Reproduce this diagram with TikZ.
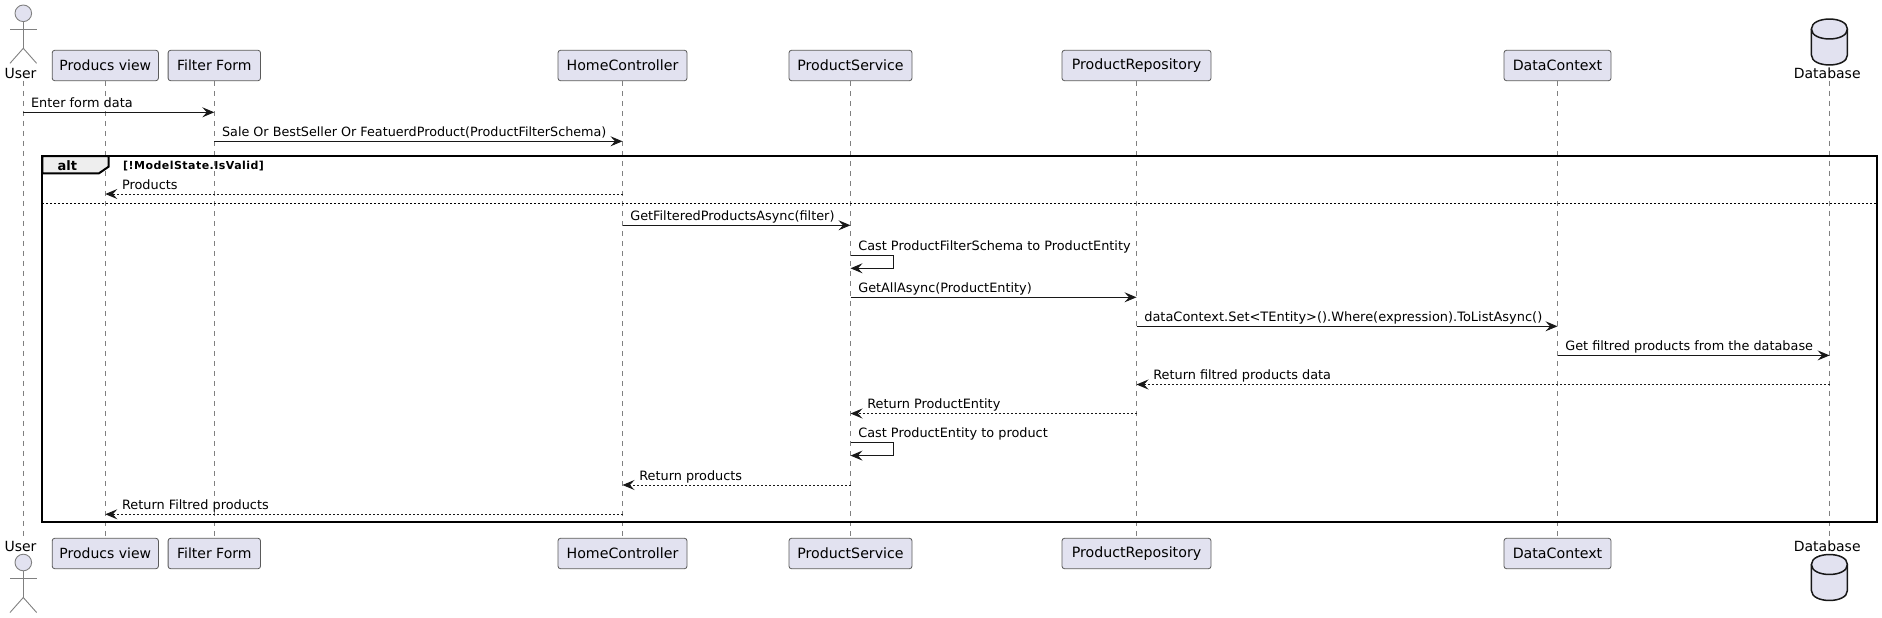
\documentclass[tikz,border=0pt]{standalone}
\usepackage{fontspec}
\setmainfont{DejaVu Sans}
\usetikzlibrary{arrows.meta}
\definecolor{ink}{HTML}{181818}
\definecolor{soft}{HTML}{808080}
\definecolor{edge}{HTML}{5A5A5A}
\definecolor{partfill}{HTML}{E2E2F0}
\definecolor{tabfill}{HTML}{EEEEEE}
\newcommand{\msgfont}{\fontsize{12.85}{15}\selectfont}
\tikzset{
  part/.style={draw=edge,fill=partfill,line width=0.8pt,rounded corners=2.5pt,inner sep=0pt,minimum height=30.4pt,font=\fontsize{14.2}{16}\selectfont,text=black},
  narrowtext/.style={font=\fontsize{14}{16}\selectfont},
  plain label/.style={inner sep=0pt,font=\fontsize{14}{16}\selectfont,text=black},
  lifeline/.style={draw=soft,line width=0.7pt,dash pattern=on 5pt off 5pt},
  sync/.style={draw=ink,line width=1pt,-{Stealth[length=12pt,width=10pt,inset=4.5pt]}},
  reply/.style={draw=ink,line width=1pt,dash pattern=on 2pt off 2pt,-{Stealth[length=12pt,width=10pt,inset=4.5pt]}},
  msgl/.style={anchor=base west,inner sep=0pt,font=\msgfont,text=black},
  actorline/.style={draw=soft,line width=0.9pt},
  dbline/.style={draw=ink,line width=1.5pt},
  frameline/.style={draw=black,line width=2pt},
}
% id, from, to, y, label
\newcommand{\MsgR}[5]{%
  \coordinate (m#1s) at (#2 |- 0,#4);\coordinate (m#1e) at (#3 |- 0,#4);
  \draw[sync] (m#1s) -- (m#1e);
  \node[msgl] (lab#1) at ([xshift=7.6pt,yshift=4.6pt]m#1s) {#5};}
\newcommand{\MsgL}[5]{%
  \coordinate (m#1s) at (#2 |- 0,#4);\coordinate (m#1e) at (#3 |- 0,#4);
  \draw[reply] (m#1s) -- (m#1e);
  \node[msgl] (lab#1) at ([xshift=16.6pt,yshift=4.6pt]m#1e) {#5};}
% id, lifeline, y start, y end, label
\newcommand{\MsgSelf}[5]{%
  \coordinate (m#1s) at (#2 |- 0,#3);\coordinate (m#1e) at (#2 |- 0,#4);
  \draw[sync] (m#1s) -- ++(42.7,0) |- (m#1e);
  \node[msgl] (lab#1) at ([xshift=7.6pt,yshift=4.6pt]m#1s) {#5};}
\newcommand{\Actor}[1]{%
  \begin{scope}[shift={(23.3,#1)}]
    \draw[actorline,fill=partfill] (0,8.3) circle (8.3);
    \draw[actorline] (0,16.6) -- (0,43.3);
    \draw[actorline] (-13.3,24) -- (13.3,24);
    \draw[actorline] (-13.3,58.3) -- (0,43.3) -- (13.3,58.3);
  \end{scope}}
\newcommand{\DataBase}[1]{%
  \begin{scope}[shift={(1829.4,#1)}]
    \draw[dbline,fill=partfill] (-18,10) .. controls (-18,-3.3) and (18,-3.3) .. (18,10)
      -- (18,36) .. controls (18,49.3) and (-18,49.3) .. (-18,36) -- cycle;
    \draw[dbline] (-18,10) .. controls (-18,23.3) and (18,23.3) .. (18,10);
  \end{scope}}
\begin{document}
\begin{tikzpicture}[x=1pt,y=-1pt]
\useasboundingbox (0,0) rectangle (1882,618);
% top participants
\node[plain label] (userT) at (20.5,73) {User};
\node[part,narrowtext,minimum width=106.2pt] (viewT) at (105.3,65.5) {Producs view};
\node[part,narrowtext,minimum width=92.4pt] (formT) at (214.3,65.5) {Filter Form};
\node[part,minimum width=129pt] (homeT) at (622.5,65.5) {HomeController};
\node[part,minimum width=123pt] (servT) at (850.5,65.5) {ProductService};
\node[part,minimum width=149pt] (repoT) at (1136.5,65.5) {ProductRepository};
\node[part,minimum width=107pt] (ctxT) at (1557.5,65.5) {DataContext};
\node[plain label] (dbT) at (1827.2,73) {Database};
% bottom participants
\node[plain label] (userB) at (20.5,546) {User};
\node[part,narrowtext,minimum width=106.2pt] (viewB) at (105.3,553.5) {Producs view};
\node[part,narrowtext,minimum width=92.4pt] (formB) at (214.3,553.5) {Filter Form};
\node[part,minimum width=129pt] (homeB) at (622.5,553.5) {HomeController};
\node[part,minimum width=123pt] (servB) at (850.5,553.5) {ProductService};
\node[part,minimum width=149pt] (repoB) at (1136.5,553.5) {ProductRepository};
\node[part,minimum width=107pt] (ctxB) at (1557.5,553.5) {DataContext};
\node[plain label] (dbB) at (1827.2,546) {Database};
% lifeline axes
\coordinate (user) at (23.3,80.7);
\coordinate (view) at (viewT.south);
\coordinate (form) at (formT.south);
\coordinate (home) at (homeT.south);
\coordinate (serv) at (servT.south);
\coordinate (repo) at (repoT.south);
\coordinate (ctx) at (ctxT.south);
\coordinate (db) at (1829.6,80.7);
\coordinate (userEnd) at (23.3,538.7);
\coordinate (dbEnd) at (1829.6,538.7);
\draw[lifeline] (user) -- (userEnd);
\draw[lifeline] (viewT) -- (viewB);
\draw[lifeline] (formT) -- (formB);
\draw[lifeline] (homeT) -- (homeB);
\draw[lifeline] (servT) -- (servB);
\draw[lifeline] (repoT) -- (repoB);
\draw[lifeline] (ctxT) -- (ctxB);
\draw[lifeline] (db) -- (dbEnd);
% figures
\Actor{5}
\Actor{554.2}
\DataBase{19}
\DataBase{554.5}
% alt frame
\draw[frameline,fill=tabfill] (42.4,156) -- (108.6,156) -- (108.6,166.7) -- (99,173.3) -- (42.4,173.3) -- cycle;
\draw[frameline] (42.4,156) rectangle (1876.7,522.3);
\node[inner sep=0pt,font=\bfseries\fontsize{13}{15}\selectfont,text=black] (altlab) at (67.3,165.3) {alt};
\node[anchor=west,inner sep=0pt,font=\bfseries\fontsize{11}{13}\selectfont\addfontfeature{LetterSpace=4.2},text=black] (altcond) at (123,165.6) {[!ModelState.IsValid]};
\coordinate (sepL) at (42.4,203);
\coordinate (sepR) at (1876.7,203);
\draw[draw=black,line width=1pt,dash pattern=on 2pt off 2pt] (sepL) -- (sepR);
% messages
\MsgR{1}{user}{form}{112.3}{Enter form data}
\MsgR{2}{form}{home}{141.3}{\fontsize{12.75}{15}\selectfont Sale Or BestSeller Or FeatuerdProduct(ProductFilterSchema)}
\MsgL{3}{home}{view}{194}{Products}
\MsgR{4}{home}{serv}{225.3}{GetFilteredProductsAsync(filter)}
\MsgSelf{5}{serv}{255.3}{268.3}{Cast ProductFilterSchema to ProductEntity}
\MsgR{6}{serv}{repo}{297.3}{GetAllAsync(ProductEntity)}
\MsgR{7}{repo}{ctx}{326.3}{\fontsize{12.95}{15}\selectfont dataContext.Set<TEntity>().Where(expression).ToListAsync()}
\MsgR{8}{ctx}{db}{355.4}{Get filtred products from the database}
\MsgL{9}{db}{repo}{384.5}{Return filtred products data}
\MsgL{10}{repo}{serv}{413.5}{Return ProductEntity}
\MsgSelf{11}{serv}{442.5}{455.6}{Cast ProductEntity to product}
\MsgL{12}{serv}{home}{485}{Return products}
\MsgL{13}{home}{view}{514.3}{Return Filtred products}
\end{tikzpicture}
\end{document}
